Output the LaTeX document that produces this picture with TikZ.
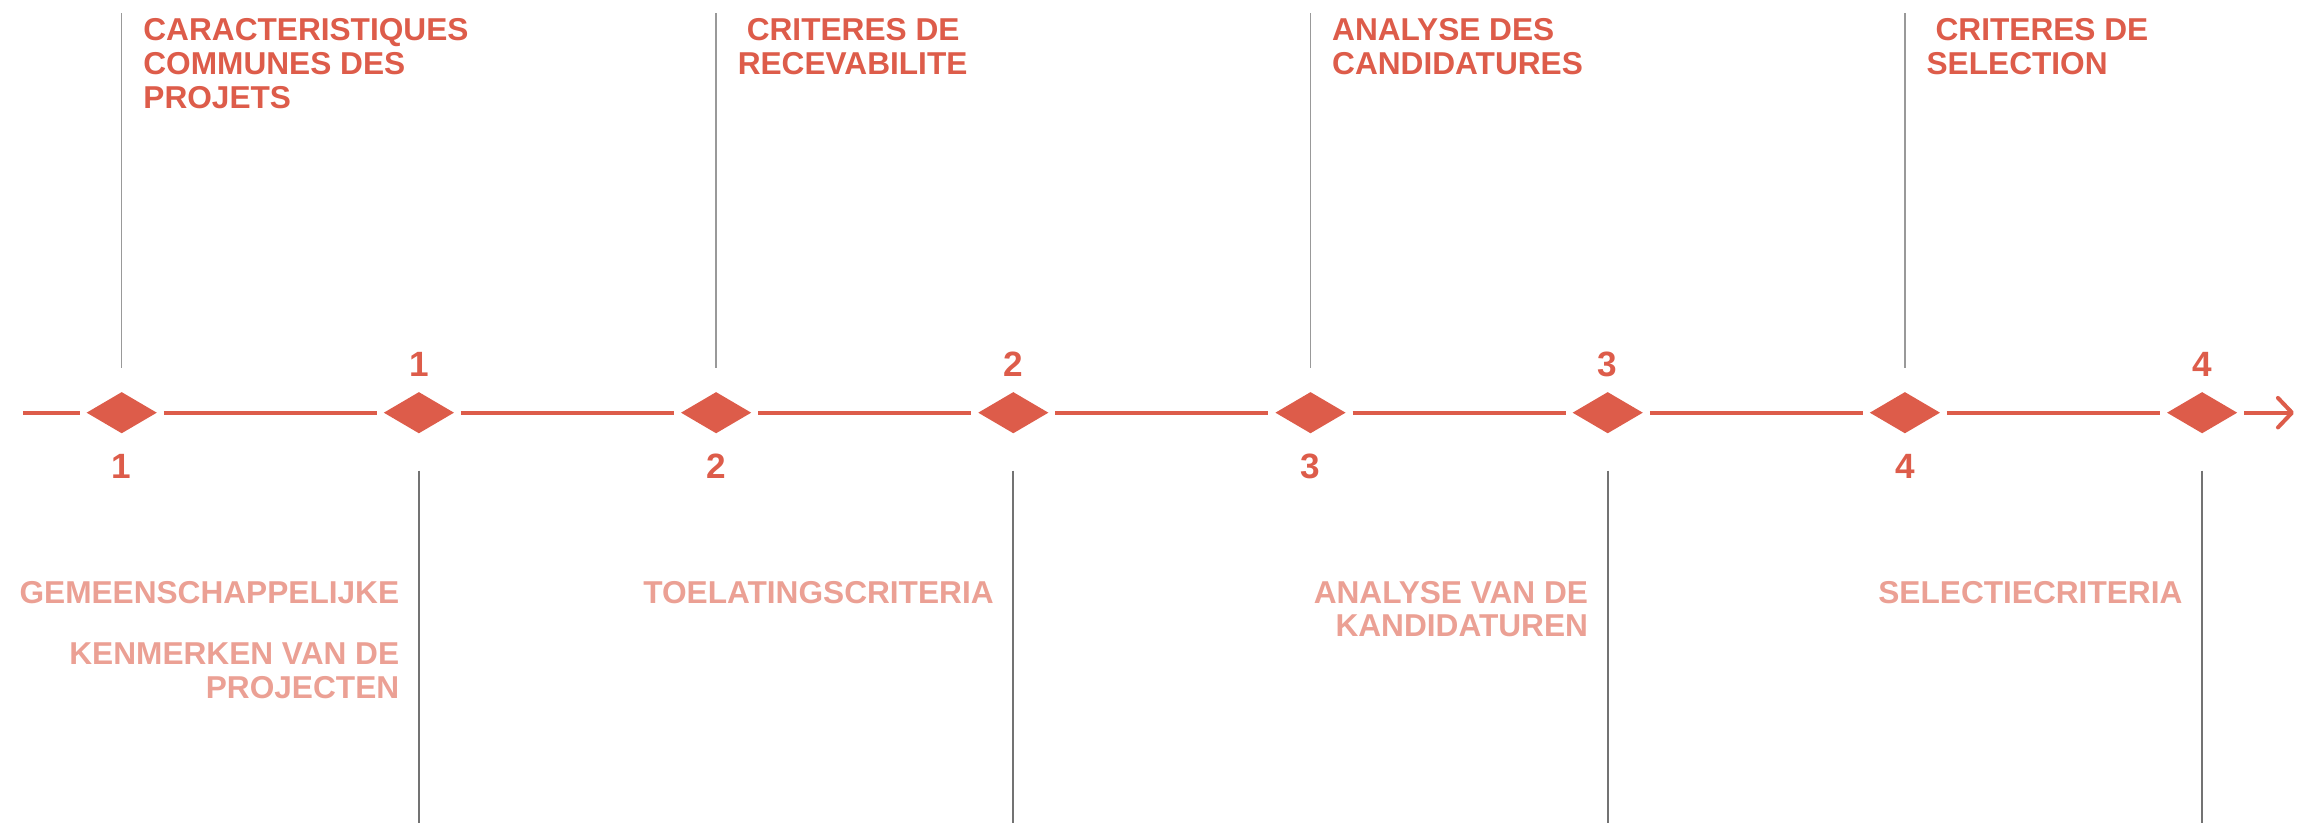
\documentclass[tikz,border=0pt]{standalone}
\usepackage{fontspec}
\setmainfont{Liberation Sans}
\usetikzlibrary{positioning,shapes.geometric,arrows.meta}

\definecolor{rouge}{HTML}{DD5C4A}
\definecolor{rose}{HTML}{EBA094}

\tikzset{
  jalon/.style={diamond,fill=rouge,inner sep=0pt,minimum width=0.707cm,minimum height=0.417cm},
  axe/.style={rouge,line width=1.14pt},
  numero/.style={rouge,inner sep=0pt,font=\fontsize{10}{12}\selectfont\bfseries},
  titre/.style={rouge,inner sep=0pt,anchor=north west,align=left,font=\fontsize{9}{9.7}\selectfont\bfseries},
  legende/.style={rose,inner sep=0pt,anchor=north east,align=right,font=\fontsize{9}{9.5}\selectfont\bfseries},
  repere/.style={black!40,line width=0.45pt},
  reperebas/.style={black!55,line width=0.6pt}
}

\begin{document}
\begin{tikzpicture}
\useasboundingbox (0,0) rectangle (22.98,8.23);

% jalons
\foreach \i in {1,...,8}
  \node[jalon] (d\i) at ({1.217+2.972*(\i-1)},4.103) {};

% axe
\coordinate (debut) at (0.233,4.103);
\coordinate (fin) at (22.94,4.103);
\draw[axe,shorten >=0.6mm] (debut) -- (d1);
\foreach \i [count=\j from 2] in {1,...,7}
  \draw[axe,shorten <=0.6mm,shorten >=0.6mm] (d\i) -- (d\j);
\draw[axe,shorten <=0.6mm,-{Straight Barb[length=4pt,width=8.4pt,round]}] (d8) -- (fin);

% numeros et reperes
\foreach \a/\b/\n in {1/2/1,3/4/2,5/6/3,7/8/4}{
  \node[numero,below=0.195cm of d\a] (nb\n) {\n};
  \node[numero,above=0.138cm of d\b] (nh\n) {\n};
  \coordinate (hb\n) at ([yshift=0.447cm]d\a.center);
  \coordinate (hh\n) at ([yshift=3.997cm]d\a.center);
  \coordinate (bh\n) at ([yshift=-0.58cm]d\b.center);
  \coordinate (bb\n) at ([yshift=-4.103cm]d\b.center);
  \draw[repere] (hb\n) -- (hh\n);
  \draw[reperebas] (bh\n) -- (bb\n);
}

% titres
\node[titre] (t1) at ([xshift=2.1mm,yshift=-0.45mm]hh1) {CARACTERISTIQUES\\COMMUNES DES\\PROJETS};
\node[titre] (t2) at ([xshift=2.1mm,yshift=-0.45mm]hh2) {\hspace*{0.09cm}CRITERES DE\\RECEVABILITE};
\node[titre] (t3) at ([xshift=2.1mm,yshift=-0.45mm]hh3) {ANALYSE DES\\CANDIDATURES};
\node[titre] (t4) at ([xshift=2.1mm,yshift=-0.45mm]hh4) {\hspace*{0.09cm}CRITERES DE\\SELECTION};

% legendes
\node[legende] (l1) at ([xshift=-1.9mm,yshift=-11.0mm]bh1) {GEMEENSCHAPPELIJKE\\[8pt]KENMERKEN VAN DE\\PROJECTEN};
\node[legende] (l2) at ([xshift=-1.9mm,yshift=-11.0mm]bh2) {TOELATINGSCRITERIA};
\node[legende] (l3) at ([xshift=-1.9mm,yshift=-11.0mm]bh3) {ANALYSE VAN DE\\KANDIDATUREN};
\node[legende] (l4) at ([xshift=-1.9mm,yshift=-11.0mm]bh4) {SELECTIECRITERIA};

\end{tikzpicture}
\end{document}
